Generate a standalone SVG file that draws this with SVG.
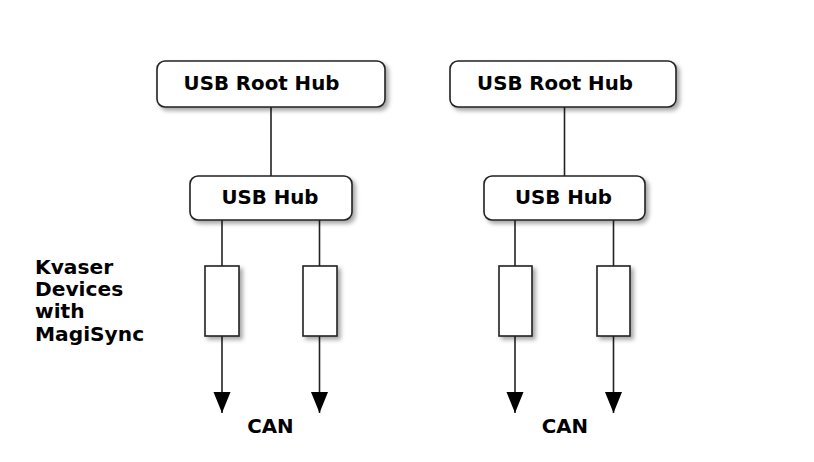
<svg xmlns="http://www.w3.org/2000/svg" width="814" height="462" viewBox="0 0 814 462">
<defs>
<filter id="sh" x="-20%" y="-20%" width="150%" height="150%">
<feDropShadow dx="3" dy="3" stdDeviation="2" flood-color="#000" flood-opacity="0.35"/>
</filter>
<marker id="arr" markerWidth="22" markerHeight="18" refX="21" refY="8.5" orient="auto" markerUnits="userSpaceOnUse" viewBox="0 0 22 17">
<path d="M0,0 L21,8.5 L0,17 Z" fill="#000"/>
</marker>
</defs>
<style>
.hub{fill:#fff;stroke:#222;stroke-width:1.6;filter:url(#sh)}
.dev{fill:#fff;stroke:#222;stroke-width:1.6;filter:url(#sh)}
.lbl{font-family:"DejaVu Sans",Verdana,sans-serif;font-weight:bold;font-size:19.8px;fill:#000;text-anchor:middle}
.side{font-family:"DejaVu Sans",Verdana,sans-serif;font-weight:bold;font-size:20.2px;fill:#000}
.ln{stroke:#222;stroke-width:1.6;fill:none}
</style>
<rect width="814" height="462" fill="#fff"/>
<g id="connectors">
<line class="ln" x1="271" y1="107" x2="271" y2="176"/>
<line class="ln" x1="564.5" y1="107" x2="564.5" y2="176"/>
<line class="ln" x1="222" y1="220" x2="222" y2="266"/>
<line class="ln" x1="319.5" y1="220" x2="319.5" y2="266"/>
<line class="ln" x1="515" y1="220" x2="515" y2="266"/>
<line class="ln" x1="613.5" y1="220" x2="613.5" y2="266"/>
<line class="ln" x1="222" y1="336" x2="222" y2="413" marker-end="url(#arr)"/>
<line class="ln" x1="319.5" y1="336" x2="319.5" y2="413" marker-end="url(#arr)"/>
<line class="ln" x1="515" y1="336" x2="515" y2="413" marker-end="url(#arr)"/>
<line class="ln" x1="613.5" y1="336" x2="613.5" y2="413" marker-end="url(#arr)"/>
</g>
<g id="root1"><rect class="hub" x="157" y="61" width="228" height="46" rx="8"/><text class="lbl" x="261.5" y="90">USB Root Hub</text></g>
<g id="root2"><rect class="hub" x="450" y="61" width="226" height="46" rx="8"/><text class="lbl" x="555" y="90">USB Root Hub</text></g>
<g id="hub1"><rect class="hub" x="190" y="176" width="162" height="44" rx="8"/><text class="lbl" x="270" y="204">USB Hub</text></g>
<g id="hub2"><rect class="hub" x="484" y="176" width="161" height="44" rx="8"/><text class="lbl" x="563.5" y="204">USB Hub</text></g>
<g id="dev1"><rect class="dev" x="205" y="266" width="34" height="70"/></g>
<g id="dev2"><rect class="dev" x="303" y="266" width="34" height="70"/></g>
<g id="dev3"><rect class="dev" x="499" y="266" width="33" height="70"/></g>
<g id="dev4"><rect class="dev" x="597" y="266" width="33" height="70"/></g>
<g id="label-devices"><text class="side" x="35" y="274">Kvaser</text><text class="side" x="35" y="296">Devices</text><text class="side" x="35" y="318">with</text><text class="side" x="35" y="341">MagiSync</text></g>
<g id="can1"><text class="lbl" x="270.5" y="433">CAN</text></g>
<g id="can2"><text class="lbl" x="565" y="433">CAN</text></g>
</svg>
